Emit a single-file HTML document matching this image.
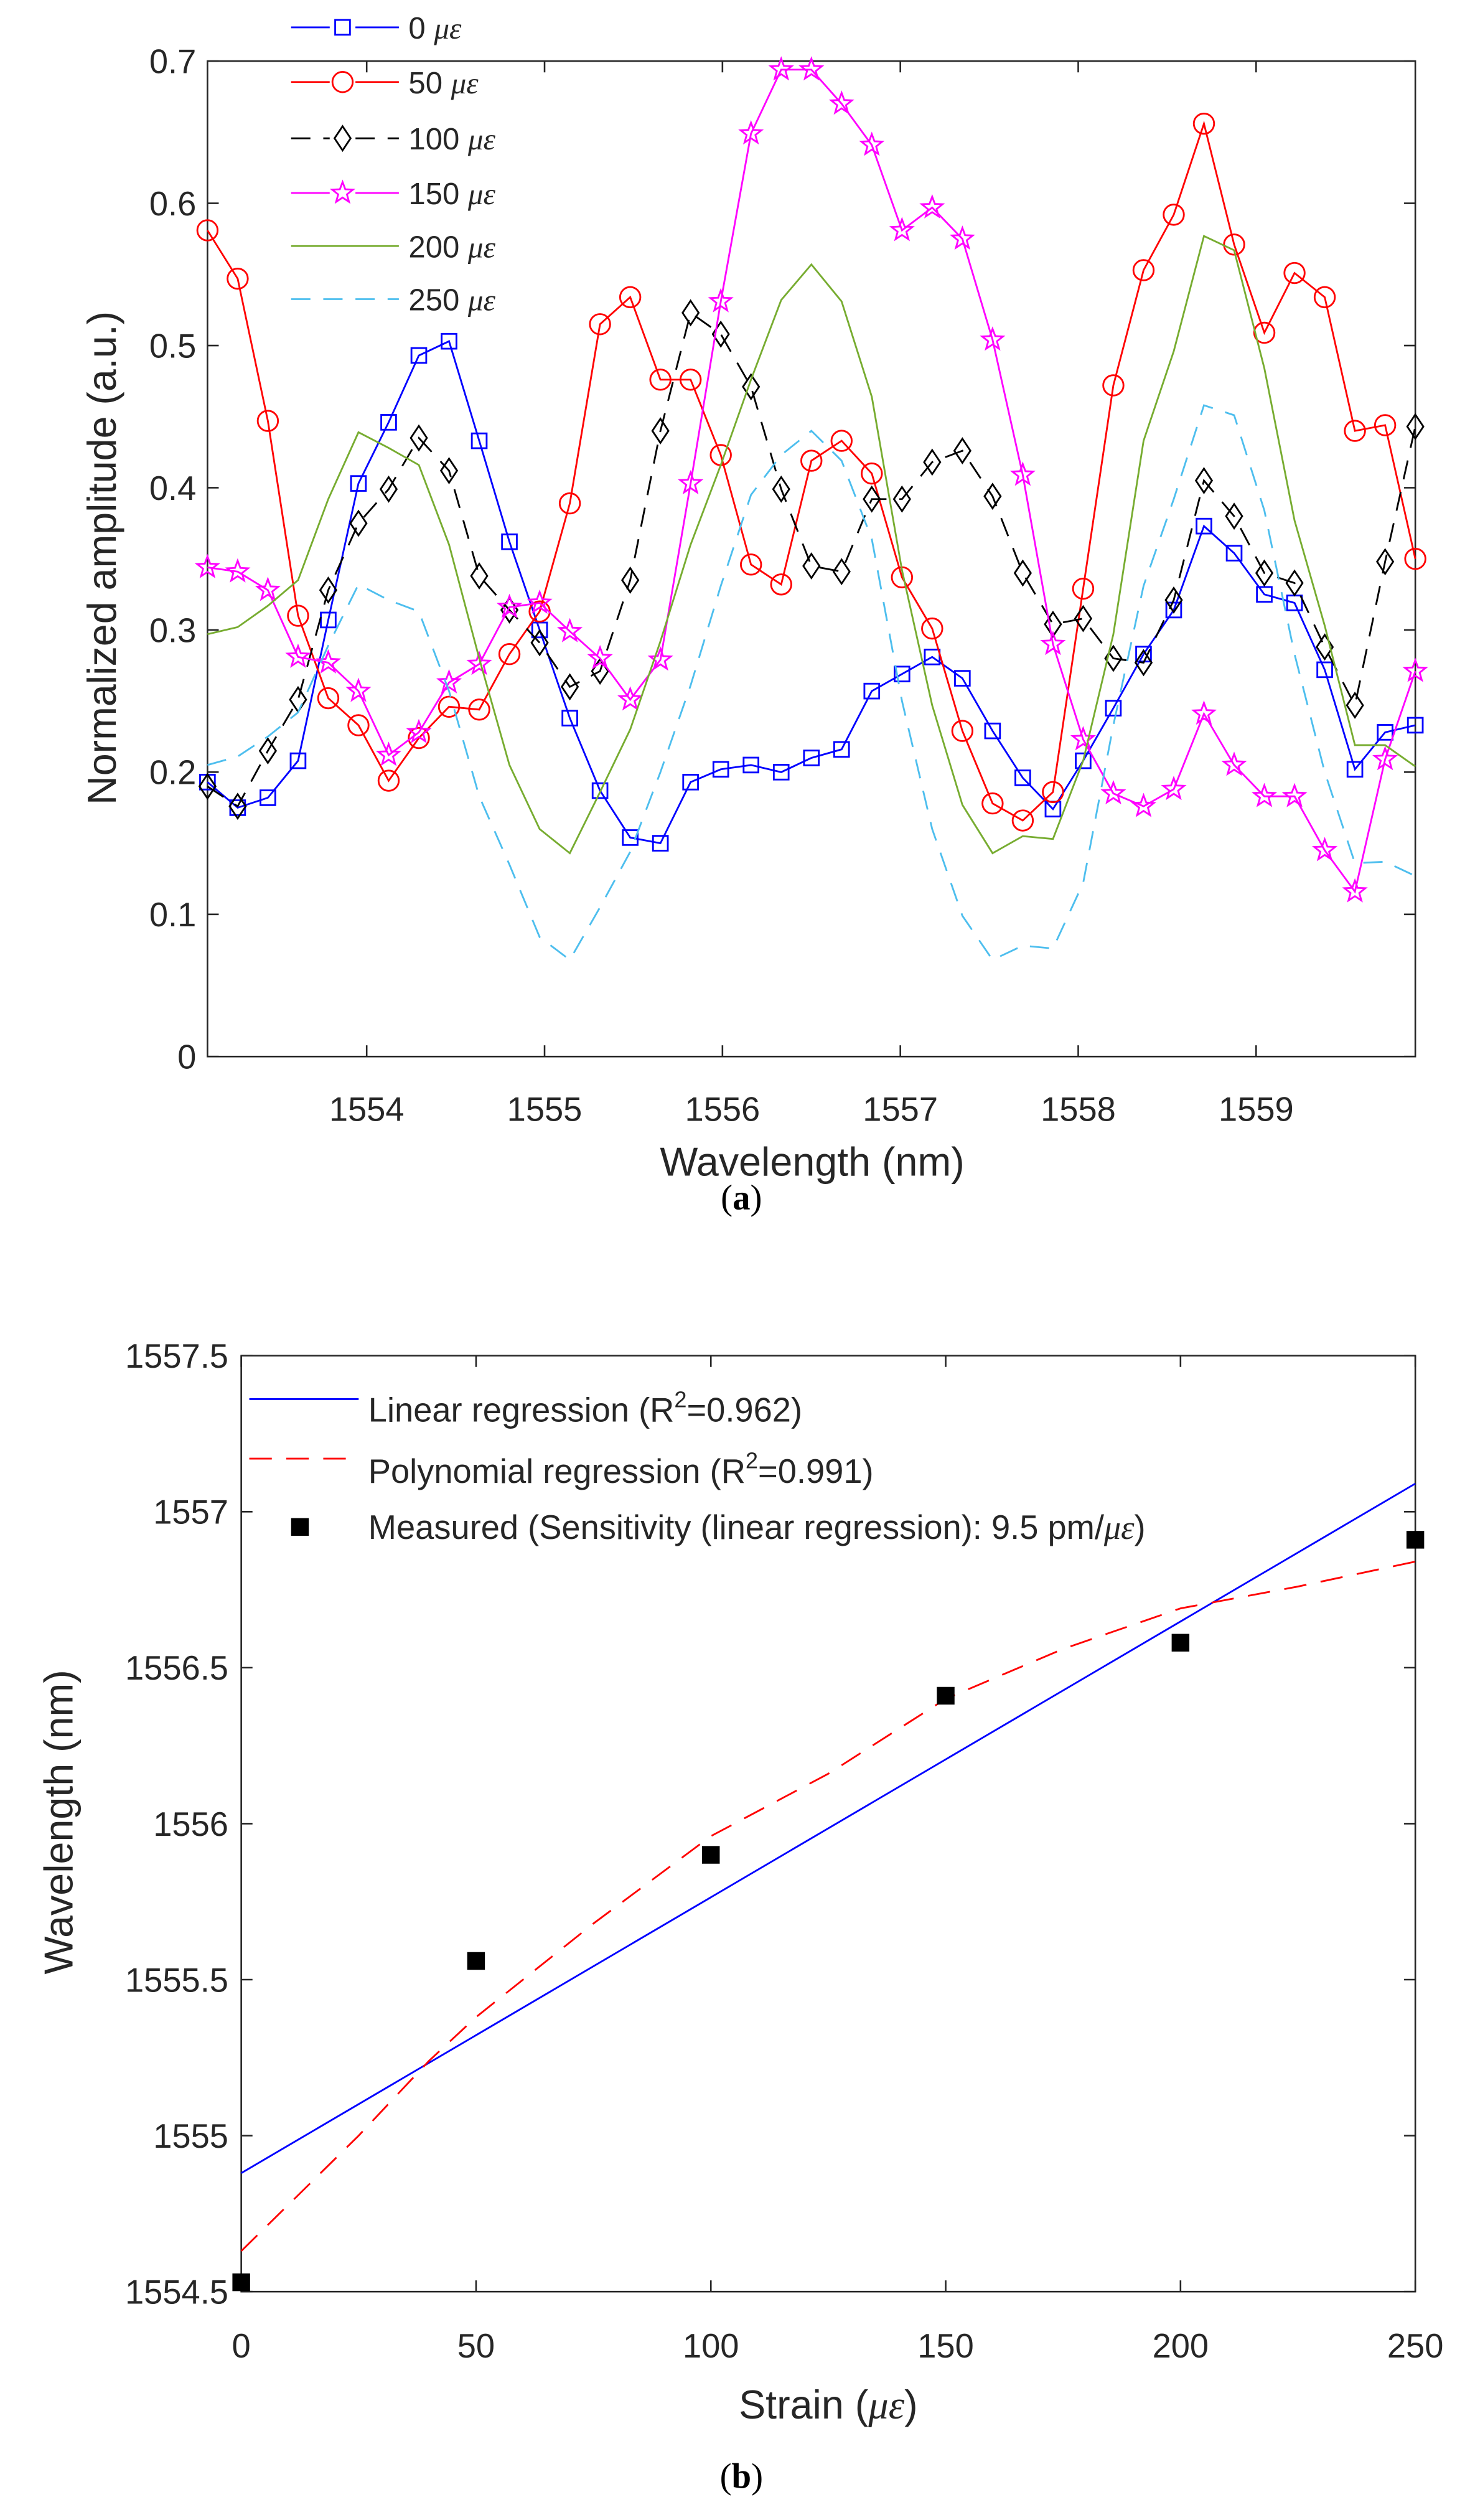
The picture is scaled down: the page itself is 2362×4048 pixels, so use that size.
<!DOCTYPE html>
<html><head><meta charset="utf-8"><style>
html,body{margin:0;padding:0;background:#fff;}
svg{display:block;}
text{font-family:"Liberation Sans",sans-serif;fill:#262626;}
.mu{font-family:"Liberation Serif",serif;font-style:italic;}
</style></head><body>
<svg id="fig" xmlns="http://www.w3.org/2000/svg" width="2362" height="4048" viewBox="0 0 914 1567" preserveAspectRatio="none">
<g id="chartA"></g>
<g id="chartB"></g>
<text x="461" y="752" text-anchor="middle" style="font-family:'Liberation Serif',serif;font-size:22px;fill:#000">(<tspan font-weight="bold">a</tspan>)</text>
<text x="461" y="1547" text-anchor="middle" style="font-family:'Liberation Serif',serif;font-size:22px;fill:#000">(<tspan font-weight="bold">b</tspan>)</text>
</svg>
<script>
// ---------- Chart A data ----------
const wlStart = 1553.105;
const wlStep = 0.16975;
const xTicksA = [1554, 1555, 1556, 1557, 1558, 1559];
const yTicksA = [0, 0.1, 0.2, 0.3, 0.4, 0.5, 0.6, 0.7];
const seriesLabels = ["0", "50", "100", "150", "200", "250"];
const s0 = [0.193,0.175,0.182,0.208,0.307,0.403,0.446,0.493,0.503,0.433,0.362,0.300,0.238,0.187,0.154,0.150,0.193,0.202,0.205,0.200,0.210,0.216,0.257,0.269,0.281,0.266,0.229,0.196,0.174,0.208,0.245,0.283,0.314,0.373,0.354,0.325,0.319,0.272,0.202,0.228,0.233];
const s50 = [0.581,0.547,0.447,0.310,0.252,0.233,0.194,0.224,0.246,0.244,0.283,0.313,0.389,0.515,0.534,0.476,0.476,0.423,0.346,0.332,0.419,0.433,0.410,0.337,0.301,0.229,0.178,0.166,0.186,0.329,0.472,0.553,0.592,0.656,0.571,0.509,0.551,0.534,0.440,0.444,0.350];
const s100 = [0.190,0.176,0.215,0.251,0.328,0.375,0.399,0.435,0.412,0.338,0.314,0.291,0.260,0.271,0.335,0.440,0.523,0.508,0.471,0.399,0.345,0.341,0.392,0.392,0.418,0.426,0.394,0.340,0.304,0.308,0.280,0.277,0.321,0.405,0.380,0.340,0.333,0.288,0.247,0.348,0.443];
const s150 = [0.344,0.341,0.328,0.281,0.277,0.257,0.212,0.228,0.263,0.276,0.316,0.319,0.299,0.280,0.251,0.279,0.403,0.531,0.649,0.694,0.694,0.670,0.641,0.581,0.597,0.575,0.504,0.409,0.290,0.223,0.185,0.176,0.188,0.241,0.205,0.183,0.183,0.145,0.116,0.209,0.271];
const s200 = [0.297,0.302,0.317,0.335,0.392,0.439,0.428,0.416,0.360,0.280,0.205,0.160,0.143,0.186,0.230,0.292,0.360,0.416,0.476,0.532,0.557,0.531,0.464,0.342,0.247,0.177,0.143,0.155,0.153,0.208,0.297,0.433,0.496,0.577,0.567,0.484,0.377,0.303,0.219,0.219,0.204];
const s250 = [0.205,0.211,0.225,0.242,0.289,0.332,0.321,0.313,0.257,0.183,0.135,0.084,0.068,0.105,0.144,0.200,0.261,0.331,0.395,0.423,0.440,0.419,0.364,0.250,0.160,0.099,0.068,0.078,0.076,0.122,0.233,0.331,0.392,0.458,0.451,0.384,0.283,0.200,0.136,0.137,0.127];

// ---------- Chart B data ----------
const strain = [0, 50, 100, 150, 200, 250];
const measured = [1554.53, 1555.56, 1555.90, 1556.41, 1556.58, 1556.91];
const linIntercept = 1554.88;
const linSlope = 0.00884;
const polyX = [0, 25, 40, 50, 75, 100, 125, 150, 175, 200, 225, 250];
const polyY = [1554.63, 1555.00, 1555.24, 1555.38, 1555.68, 1555.96, 1556.16, 1556.40, 1556.56, 1556.69, 1556.76, 1556.84];
const xTicksB = [0, 50, 100, 150, 200, 250];
const yTicksB = [1554.5, 1555, 1555.5, 1556, 1556.5, 1557, 1557.5];
const yTickLabelsB = ["1554.5", "1555", "1555.5", "1556", "1556.5", "1557", "1557.5"];

const NS = "http://www.w3.org/2000/svg";
function mk(parent, tag, attrs) {
  const e = document.createElementNS(NS, tag);
  for (const k in attrs) e.setAttribute(k, attrs[k]);
  parent.appendChild(e);
  return e;
}

// ===== Chart A =====
const A = document.getElementById('chartA');
const aL = 129, aR = 880, aT = 38, aB = 657;
const aXmin = 1553.105, aXmax = 1559.895, aYmin = 0, aYmax = 0.7;
const ax = v => aL + (v - aXmin) / (aXmax - aXmin) * (aR - aL);
const ay = v => aB - (v - aYmin) / (aYmax - aYmin) * (aB - aT);
const wl = s0.map((_, i) => wlStart + i * wlStep);

function starPts(cx, cy, r) {
  const p = [];
  for (let k = 0; k < 10; k++) {
    const rr = k % 2 === 0 ? r : r * 0.42;
    const a = -Math.PI / 2 + k * Math.PI / 5;
    p.push((cx + rr * Math.cos(a)).toFixed(2) + ',' + (cy + rr * Math.sin(a)).toFixed(2));
  }
  return p.join(' ');
}
function marker(g, type, cx, cy, color) {
  let e;
  if (type === 'sq') e = mk(g, 'rect', {x: cx - 4.6, y: cy - 4.6, width: 9.2, height: 9.2, fill: 'none', stroke: color, 'stroke-width': 1.1});
  else if (type === 'ci') e = mk(g, 'circle', {cx: cx, cy: cy, r: 6.3, fill: 'none', stroke: color, 'stroke-width': 1.1});
  else if (type === 'di') e = mk(g, 'polygon', {points: `${cx},${cy-7.5} ${cx+5},${cy} ${cx},${cy+7.5} ${cx-5},${cy}`, fill: 'none', stroke: color, 'stroke-width': 1.1});
  else if (type === 'st') e = mk(g, 'polygon', {points: starPts(cx, cy, 6.8), fill: 'none', stroke: color, 'stroke-width': 1.1});
  return e;
}

const seriesA = [
  {data: s0, color: '#0000ff', dash: '', mk: 'sq', name: 'series-0-ue'},
  {data: s50, color: '#ff0000', dash: '', mk: 'ci', name: 'series-50-ue'},
  {data: s100, color: '#000000', dash: '12,8', mk: 'di', name: 'series-100-ue'},
  {data: s150, color: '#ff00ff', dash: '', mk: 'st', name: 'series-150-ue'},
  {data: s200, color: '#77ac30', dash: '', mk: '', name: 'series-200-ue'},
  {data: s250, color: '#4dbeee', dash: '12,8', mk: '', name: 'series-250-ue'}
];

const boxA = mk(A, 'rect', {x: aL, y: aT, width: aR - aL, height: aB - aT, fill: '#fff', stroke: '#262626', 'stroke-width': 1});



xTicksA.forEach(t => {
  const x = ax(t);
  mk(A, 'line', {x1: x, y1: aB, x2: x, y2: aB - 7, stroke: '#262626', 'stroke-width': 1});
  mk(A, 'line', {x1: x, y1: aT, x2: x, y2: aT + 7, stroke: '#262626', 'stroke-width': 1});
  const tx = mk(A, 'text', {x: x, y: 697, 'text-anchor': 'middle', 'font-size': 21});
  tx.textContent = String(t);
  
  
});
yTicksA.forEach(t => {
  const y = ay(t);
  mk(A, 'line', {x1: aL, y1: y, x2: aL + 7, y2: y, stroke: '#262626', 'stroke-width': 1});
  mk(A, 'line', {x1: aR, y1: y, x2: aR - 7, y2: y, stroke: '#262626', 'stroke-width': 1});
  const tx = mk(A, 'text', {x: 122, y: y + 7.5, 'text-anchor': 'end', 'font-size': 21});
  tx.textContent = String(t);
  
  
});

seriesA.forEach(s => {
  const g = mk(A, 'g', {});
  
  
  const pts = s.data.map((v, i) => ax(wl[i]).toFixed(2) + ',' + ay(v).toFixed(2)).join(' ');
  const line = mk(g, 'polyline', {points: pts, fill: 'none', stroke: s.color, 'stroke-width': 1.1, 'stroke-dasharray': s.dash});
  
  
  if (s.mk) s.data.forEach((v, i) => {
    const m = marker(g, s.mk, ax(wl[i]), ay(v), s.color);
    
    
  });
});

const legA = mk(A, 'g', {});


const legRowsY = [17, 51, 86, 120, 153, 186];
seriesA.forEach((s, i) => {
  const y = legRowsY[i];
  const g = mk(legA, 'g', {});
  
  
  mk(g, 'line', {x1: 181, y1: y, x2: 248, y2: y, stroke: s.color, 'stroke-width': 1.1, 'stroke-dasharray': s.dash});
  if (s.mk) {
    mk(g, 'rect', {x: 205, y: y - 8, width: 16, height: 16, fill: '#fff'});
    marker(g, s.mk, 213, y, s.color);
  }
  const t = mk(g, 'text', {x: 254, y: y + 7, 'font-size': 19});
  t.textContent = seriesLabels[i] + ' ';
  const sp = mk(t, 'tspan', {class: 'mu'});
  sp.textContent = 'με';
});

const xtA = mk(A, 'text', {x: 505, y: 731, 'text-anchor': 'middle', 'font-size': 25});
xtA.textContent = 'Wavelength (nm)';


const ytA = mk(A, 'text', {x: 0, y: 0, 'text-anchor': 'middle', 'font-size': 25, transform: 'translate(72,347) rotate(-90)'});
ytA.textContent = 'Normalized amplitude (a.u.)';



// ===== Chart B =====
const B = document.getElementById('chartB');
const bL = 150, bR = 880, bT = 843, bB = 1425;
const bXmin = 0, bXmax = 250, bYmin = 1554.5, bYmax = 1557.5;
const bx = v => bL + (v - bXmin) / (bXmax - bXmin) * (bR - bL);
const by = v => bB - (v - bYmin) / (bYmax - bYmin) * (bB - bT);

const boxB = mk(B, 'rect', {x: bL, y: bT, width: bR - bL, height: bB - bT, fill: '#fff', stroke: '#262626', 'stroke-width': 1});


xTicksB.forEach(t => {
  const x = bx(t);
  mk(B, 'line', {x1: x, y1: bB, x2: x, y2: bB - 7, stroke: '#262626', 'stroke-width': 1});
  mk(B, 'line', {x1: x, y1: bT, x2: x, y2: bT + 7, stroke: '#262626', 'stroke-width': 1});
  const tx = mk(B, 'text', {x: x, y: 1466, 'text-anchor': 'middle', 'font-size': 21});
  tx.textContent = String(t);
  
  
});
yTicksB.forEach((t, i) => {
  const y = by(t);
  mk(B, 'line', {x1: bL, y1: y, x2: bL + 7, y2: y, stroke: '#262626', 'stroke-width': 1});
  mk(B, 'line', {x1: bR, y1: y, x2: bR - 7, y2: y, stroke: '#262626', 'stroke-width': 1});
  const tx = mk(B, 'text', {x: 142, y: y + 7.5, 'text-anchor': 'end', 'font-size': 21});
  tx.textContent = yTickLabelsB[i];
  
  
});

const lin = mk(B, 'line', {x1: bx(bXmin), y1: by(linIntercept + linSlope * bXmin), x2: bx(bXmax), y2: by(linIntercept + linSlope * bXmax), stroke: '#0000ff', 'stroke-width': 1.1});


const poly = mk(B, 'polyline', {points: polyX.map((v, i) => bx(v).toFixed(2) + ',' + by(polyY[i]).toFixed(2)).join(' '), fill: 'none', stroke: '#ff0000', 'stroke-width': 1.1, 'stroke-dasharray': '14,9'});


strain.forEach((s, i) => {
  const r = mk(B, 'rect', {x: bx(s) - 5.5, y: by(measured[i]) - 5.5, width: 11, height: 11, fill: '#000'});
  
  
});

const legB = mk(B, 'g', {});


const g1 = mk(legB, 'g', {});


mk(g1, 'line', {x1: 155, y1: 870, x2: 223, y2: 870, stroke: '#0000ff', 'stroke-width': 1.1});
const t1 = mk(g1, 'text', {x: 229, y: 884, 'font-size': 21});
t1.innerHTML = 'Linear regression (R<tspan dy="-9" font-size="14">2</tspan><tspan dy="9">=0.962)</tspan>';
const g2 = mk(legB, 'g', {});


mk(g2, 'line', {x1: 155, y1: 907, x2: 223, y2: 907, stroke: '#ff0000', 'stroke-width': 1.1, 'stroke-dasharray': '14,9'});
const t2 = mk(g2, 'text', {x: 229, y: 922, 'font-size': 21});
t2.innerHTML = 'Polynomial regression (R<tspan dy="-9" font-size="14">2</tspan><tspan dy="9">=0.991)</tspan>';
const g3 = mk(legB, 'g', {});


mk(g3, 'rect', {x: 181, y: 944, width: 11, height: 11, fill: '#000'});
const t3 = mk(g3, 'text', {x: 229, y: 957, 'font-size': 21});
t3.innerHTML = 'Measured (Sensitivity (linear regression): 9.5 pm/<tspan class="mu">με</tspan>)';

const xtB = mk(B, 'text', {x: 515, y: 1504, 'text-anchor': 'middle', 'font-size': 25});
xtB.innerHTML = 'Strain (<tspan class="mu">με</tspan>)';


const ytB = mk(B, 'text', {x: 0, y: 0, 'text-anchor': 'middle', 'font-size': 25, transform: 'translate(45,1133) rotate(-90)'});
ytB.textContent = 'Wavelength (nm)';


</script>
</body></html>
